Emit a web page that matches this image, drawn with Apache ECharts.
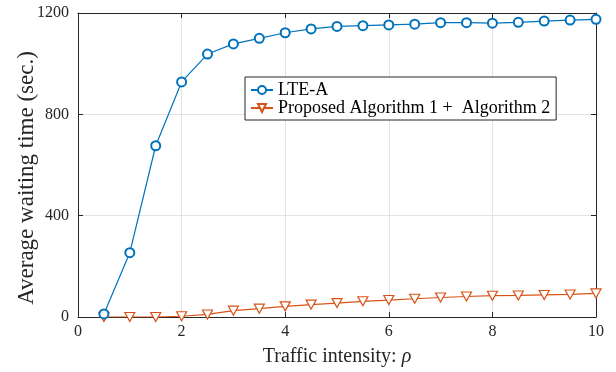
<!DOCTYPE html>
<html>
<head>
<meta charset="utf-8">
<script src="https://cdn.jsdelivr.net/npm/echarts@6/dist/echarts.min.js"></script>
<style>
  html, body { margin: 0; padding: 0; background: #fff; }
  #chart { width: 616px; height: 372px; }
</style>
</head>
<body>
<div id="chart"></div>
<script>
// 数据
var rho = [0.5, 1, 1.5, 2, 2.5, 3, 3.5, 4, 4.5, 5, 5.5, 6, 6.5, 7, 7.5, 8, 8.5, 9, 9.5, 10];
var lteA = [12, 254, 676, 928, 1038, 1078, 1100, 1122, 1137, 1147, 1150, 1153, 1156, 1162, 1162, 1160, 1163, 1168, 1172, 1175];
var proposed = [0, 0, 0, 3, 10, 25, 33, 42, 49, 55, 62, 67, 72, 77, 81, 84, 85, 87, 89, 93];
var xTicks = [0, 2, 4, 6, 8, 10];
var yTicks = [0, 400, 800, 1200];

var serif = "Liberation Serif";
var axisColor = "#262626";
var gridColor = "#e3e3e3";

function pairs(xs, ys) {
  return xs.map(function (x, i) { return [x, ys[i]]; });
}

// 上、右两条边框轴（只画线和刻度）
function boxAxis(pos, max, step) {
  return {
    type: "value", position: pos,
    min: 0, max: max, interval: step,
    axisLine: { show: true, onZero: false, lineStyle: { color: axisColor, width: 1 } },
    axisTick: { show: true, inside: true, length: 5, lineStyle: { color: axisColor } },
    axisLabel: { show: false },
    splitLine: { show: false }
  };
}

var option = {
  backgroundColor: "#fff",
  animation: false,
  grid: { left: 78, right: 20, top: 13, bottom: 55, show: false, outerBoundsMode: "none", containLabel: false },
  legend: {
    orient: "vertical",
    left: 245,
    top: 77,
    padding: [4, 6, 3, 5],
    itemGap: 0,
    itemWidth: 22,
    itemHeight: 10,
    borderColor: "#262626",
    borderWidth: 1,
    backgroundColor: "#fff",
    textStyle: { fontFamily: serif, fontSize: 18, lineHeight: 18, color: "#000" },
    data: ["LTE-A", "Proposed Algorithm 1 +  Algorithm 2"]
  },
  xAxis: [
    {
      type: "value",
      min: 0, max: 10, interval: 2,
      name: "Traffic intensity: {i|ρ}",
      nameLocation: "middle",
      nameGap: 30,
      nameMoveOverlap: false,
      nameTextStyle: {
        fontFamily: serif, fontSize: 20, color: axisColor,
        rich: { i: { fontFamily: serif, fontStyle: "italic", fontSize: 20, color: axisColor } }
      },
      axisLine: { show: true, onZero: false, lineStyle: { color: axisColor, width: 1 } },
      axisTick: { show: true, inside: true, length: 5, lineStyle: { color: axisColor } },
      axisLabel: {
        fontFamily: serif, fontSize: 16, color: axisColor, margin: 7,
        formatter: function (v) { return xTicks.indexOf(v) >= 0 ? String(v) : ""; }
      },
      splitLine: { show: true, lineStyle: { color: gridColor, width: 1 } }
    },
    boxAxis("top", 10, 2)
  ],
  yAxis: [
    {
      type: "value",
      min: 0, max: 1200, interval: 400,
      name: "Average waiting time (sec.)",
      nameLocation: "middle",
      nameGap: 40,
      nameMoveOverlap: false,
      nameTextStyle: { fontFamily: serif, fontSize: 23, color: axisColor, padding: [0, 26, 0, 0] },
      axisLine: { show: true, onZero: false, lineStyle: { color: axisColor, width: 1 } },
      axisTick: { show: true, inside: true, length: 5, lineStyle: { color: axisColor } },
      axisLabel: {
        fontFamily: serif, fontSize: 16, color: axisColor, margin: 9,
        formatter: function (v) { return yTicks.indexOf(v) >= 0 ? String(v) : ""; }
      },
      splitLine: { show: true, lineStyle: { color: gridColor, width: 1 } }
    },
    boxAxis("right", 1200, 400)
  ],
  series: [
    {
      name: "LTE-A",
      type: "line",
      data: pairs(rho, lteA),
      symbol: "emptyCircle",
      symbolSize: 9,
      showAllSymbol: true,
      lineStyle: { color: "#0072BD", width: 1.2 },
      itemStyle: { color: "#0072BD", borderColor: "#0072BD", borderWidth: 1.2 },
      z: 3
    },
    {
      name: "Proposed Algorithm 1 +  Algorithm 2",
      type: "line",
      data: pairs(rho, proposed),
      symbol: "triangle",
      symbolRotate: 180,
      symbolSize: [10, 9],
      showAllSymbol: true,
      lineStyle: { color: "#D95319", width: 1.2 },
      itemStyle: { color: "#fff", borderColor: "#D95319", borderWidth: 1.2 },
      z: 2
    }
  ]
};

var chartObj = echarts.init(document.getElementById("chart"));
chartObj.setOption(option, true);
window.addEventListener("resize", function () { chartObj.resize(); });
</script>
</body>
</html>
